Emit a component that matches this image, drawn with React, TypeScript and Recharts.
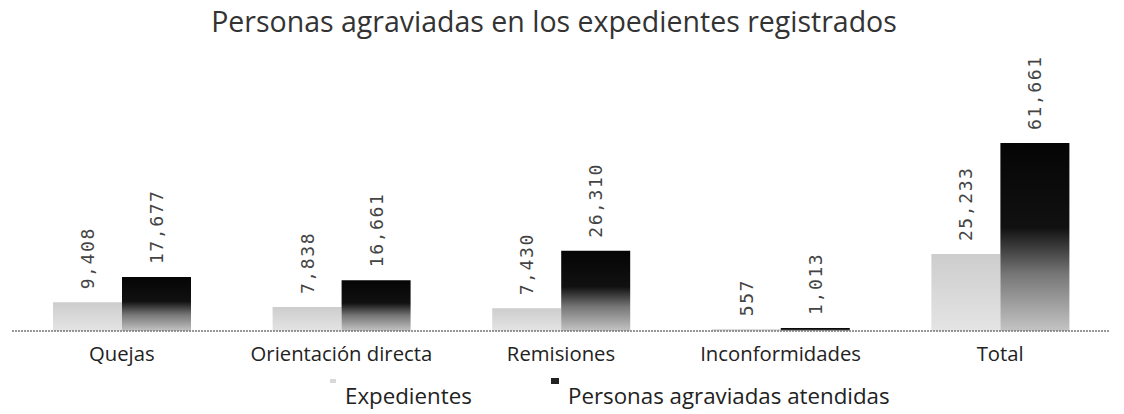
import React from 'react';
import { BarChart, Bar, XAxis, YAxis, Legend, LabelList } from 'recharts';

const categories = ['Quejas', 'Orientación directa', 'Remisiones', 'Inconformidades', 'Total'];
const expedientes = [9408, 7838, 7430, 557, 25233];
const personas = [17677, 16661, 26310, 1013, 61661];
const seriesNames = ['Expedientes', 'Personas agraviadas atendidas'];
const title = 'Personas agraviadas en los expedientes registrados';

const data = categories.map((c, i) => ({ name: c, exp: expedientes[i], per: personas[i] }));

const fmt = (v: number) => v.toLocaleString('en-US');

const VLabel = (props: any) => {
  const { x, y, width, value } = props;
  const cx = x + width / 2;
  const cy = y - 13;
  return (
    <text
      x={cx}
      y={cy}
      transform={`rotate(-90 ${cx} ${cy})`}
      textAnchor="start"
      dominantBaseline="central"
      fontFamily="'DejaVu Sans Mono', monospace"
      fontSize={18}
      letterSpacing={1.6}
      fill="#444"
    >
      {fmt(value)}
    </text>
  );
};

const LegendContent = () => (
  <div style={{ position: 'relative', height: 43, fontFamily: "'Open Sans', sans-serif", fontSize: 22.3, color: '#222' }}>
    <span style={{ position: 'absolute', left: 318, top: 8, width: 6, height: 4, background: '#d8d8d8' }} />
    <span style={{ position: 'absolute', left: 333, top: 11, lineHeight: '28px' }}>{seriesNames[0]}</span>
    <span style={{ position: 'absolute', left: 539, top: 7, width: 8, height: 6, background: '#222' }} />
    <span style={{ position: 'absolute', left: 556, top: 11, lineHeight: '28px' }}>{seriesNames[1]}</span>
  </div>
);

export default function App() {
  return (
    <div style={{ position: 'absolute', left: 0, top: 0, width: 1124, height: 414, background: '#fff' }}>
      <div
        style={{
          position: 'absolute',
          top: 2,
          left: -8,
          width: 1124,
          textAlign: 'center',
          fontFamily: "'Open Sans', sans-serif",
          fontSize: 28.5,
          color: '#333',
        }}
      >
        {title}
      </div>
      <BarChart
        width={1124}
        height={414}
        data={data}
        margin={{ top: 143, right: 14, left: 12, bottom: 0 }}
        barGap={0}
        barCategoryGap={41}
      >
        <defs>
          <linearGradient id="gExp" x1="0" y1="0" x2="0" y2="1">
            <stop offset="0%" stopColor="#cdcdcd" />
            <stop offset="100%" stopColor="#e4e4e4" />
          </linearGradient>
          <linearGradient id="gPer" x1="0" y1="0" x2="0" y2="1">
            <stop offset="0%" stopColor="#050505" />
            <stop offset="45%" stopColor="#111" />
            <stop offset="70%" stopColor="#777" />
            <stop offset="100%" stopColor="#c4c4c4" />
          </linearGradient>
        </defs>
        <YAxis hide domain={[0, 61661]} />
        <XAxis
          dataKey="name"
          height={40}
          axisLine={{ stroke: '#777', strokeWidth: 1.5, strokeDasharray: '2 1' }}
          tickLine={false}
          tick={{ fontFamily: "'Open Sans', sans-serif", fontSize: 20.3, fill: '#222', dy: 8 }}
          interval={0}
        />
        <Legend verticalAlign="bottom" height={43} content={<LegendContent />} />
        <Bar dataKey="exp" name={seriesNames[0]} fill="url(#gExp)" isAnimationActive={false}>
          <LabelList dataKey="exp" content={<VLabel />} />
        </Bar>
        <Bar dataKey="per" name={seriesNames[1]} fill="url(#gPer)" isAnimationActive={false}>
          <LabelList dataKey="per" content={<VLabel />} />
        </Bar>
      </BarChart>
    </div>
  );
}
